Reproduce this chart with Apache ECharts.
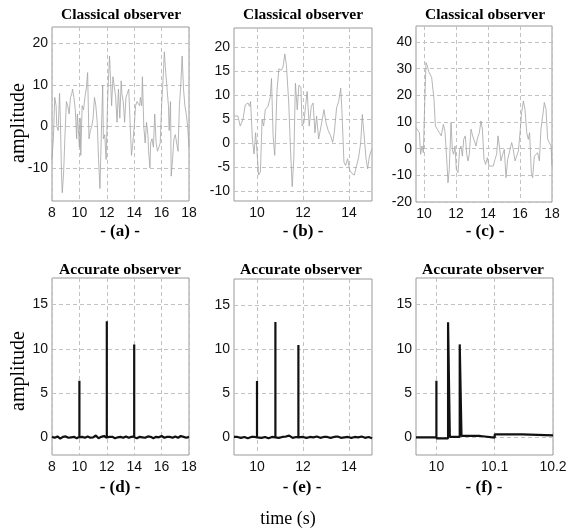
<!DOCTYPE html>
<html>
<head>
<meta charset="utf-8">
<script src="https://cdn.jsdelivr.net/npm/echarts@6/dist/echarts.min.js"></script>
<style>
  html, body { margin: 0; padding: 0; background: #fff; }
  #chart { width: 571px; height: 530px; }
</style>
</head>
<body>
<div id="chart"></div>
<script>
// ---- (a) classical observer, 8..18 s
var timeA = [8.0,8.1,8.2,8.3,8.35,8.45,8.55,8.6,8.7,8.75,8.85,8.95,9.05,9.15,9.25,9.35,9.45,9.5,9.6,9.7,9.8,9.85,9.95,10.0,10.05,10.1,10.2,10.3,10.4,10.5,10.6,10.7,10.8,10.9,11.0,11.1,11.2,11.3,11.4,11.5,11.6,11.7,11.75,11.85,11.95,12.05,12.1,12.2,12.3,12.35,12.45,12.55,12.65,12.75,12.85,12.95,13.05,13.1,13.2,13.3,13.4,13.5,13.6,13.7,13.8,13.9,14.0,14.1,14.2,14.3,14.4,14.45,14.55,14.6,14.7,14.8,14.9,15.0,15.05,15.15,15.2,15.3,15.4,15.5,15.6,15.7,15.8,15.9,16.0,16.1,16.2,16.3,16.4,16.5,16.55,16.65,16.7,16.8,16.9,17.0,17.1,17.2,17.3,17.4,17.5,17.6,17.7,17.8,17.9,18.0];
var ampA = [-8,-3,7,5,0,-1,8,3,-12,-16,-11,-2,6,5,3,7,8,9,7,4,-3,3,-2,-5,2,-7,5,4,7,9,13,-3,-1,0,2,7,5,1,-8,-15,-2,10,-3,-2,-8,5,10,17,9,5,12,12,7,1,9,2,11,8,6,1,7,8,9,1,-7,-4,0,5,6,6,5,7,5,12,0,-4,1,-2,-6,-10,-4,-3,-5,3,-4,-6,-6,-4,5,11,18,13,9,5,-1,6,-12,-8,-3,-2,-2,-6,5,10,17,9,5,3,0,-5];

// ---- (b) classical observer, 9..15 s
var timeB = [9.0,9.17,9.27,9.39,9.49,9.61,9.68,9.72,9.80,9.87,9.94,10.0,10.07,10.15,10.22,10.29,10.36,10.48,10.58,10.63,10.70,10.77,10.81,10.87,10.95,11.06,11.13,11.21,11.28,11.38,11.45,11.53,11.60,11.67,11.75,11.82,11.91,11.96,12.04,12.11,12.18,12.27,12.36,12.44,12.52,12.59,12.68,12.76,12.84,12.91,13.0,13.1,13.2,13.29,13.36,13.46,13.55,13.64,13.69,13.78,13.85,13.94,14.03,14.13,14.23,14.33,14.42,14.51,14.58,14.67,14.74,14.81,14.87,14.94,15.0];
var ampB = [5.7,5.7,3.6,5,8,8.4,7.7,8.7,0.9,-2.2,2.2,-1.8,-6.6,-5.9,5,3.6,7,7.7,9.7,13.5,1.6,-2.5,2.2,11,15.5,15.2,15.9,18.6,16.2,8.4,-0.5,-9,-3.2,12.5,7,12.1,11.7,3.6,4.3,7.7,10.8,3.6,7.7,8.4,2.2,5.7,0.9,0.9,5,7,4.3,2.6,1.6,0.2,2.2,7.4,8.7,11.5,7,-3.9,-4.6,-3.2,-5.6,-6.3,-6.6,-4.6,-2.9,0.2,6,0.9,-3.2,-5.3,-3.2,-1.8,-1.2];

// ---- (c) classical observer, 9.5..18 s
var timeC = [9.5,9.625,9.71,9.79,9.875,9.96,10.04,10.125,10.21,10.29,10.375,10.48,10.54,10.625,10.71,10.83,10.96,11.08,11.21,11.31,11.42,11.5,11.58,11.69,11.77,11.85,11.94,12.02,12.125,12.23,12.31,12.4,12.48,12.58,12.67,12.75,12.83,12.94,13.04,13.15,13.25,13.35,13.46,13.56,13.65,13.75,13.85,13.96,14.06,14.19,14.33,14.44,14.54,14.625,14.71,14.81,14.92,15.02,15.125,15.23,15.35,15.48,15.58,15.69,15.79,15.9,16.0,16.1,16.21,16.31,16.42,16.52,16.6,16.71,16.79,16.9,17.0,17.1,17.21,17.31,17.42,17.52,17.625,17.73,17.83,17.94,18.0];
var ampC = [7.9,7.5,6,-2.1,1,-1.5,16,32.3,31,29,28.5,26.6,26,18.5,8.5,7.3,6,4.8,9.1,6.6,-4,-12.8,-7.8,9.8,-0.3,-2.1,1,-7.8,-9,-0.3,1,-2.8,3.5,4.8,-2.1,-4.6,-2.1,7.3,4.8,2.9,1,4.1,6,10.4,7.3,-4,-5.9,-3.4,-6.5,-6.5,-6.5,-4,-2.1,4.8,1,-4.6,-2.1,-0.3,-10.9,-4,-3.4,2.3,-0.3,-4.6,-2.8,-0.9,6,13.5,17.9,14.8,6,3.5,6,-9,-10.9,-2.8,-2.1,-1.5,-4.6,7.3,12.3,17.3,14.8,3.5,2.3,1,-6.5];

// ---- (d) accurate observer, 8..18 s
var timeD = [8.0,8.2,8.4,8.6,8.8,9.0,9.2,9.4,9.6,9.8,10.0,10.2,10.4,10.6,10.8,11.0,11.2,11.4,11.6,11.8,12.0,12.2,12.4,12.6,12.8,13.0,13.2,13.4,13.6,13.8,14.0,14.2,14.4,14.6,14.8,15.0,15.2,15.4,15.6,15.8,16.0,16.2,16.4,16.6,16.8,17.0,17.2,17.4,17.6,17.8,18.0];
var ampD = [0.05,-0.05,0.1,-0.15,0.05,0.1,-0.05,0,0.05,-0.1,0.05,0.05,-0.05,0.1,-0.05,0,0.2,-0.1,0.05,0.15,-0.05,0.05,0.05,-0.1,0,0.05,-0.05,0.1,-0.05,0.05,0.1,-0.1,0.05,0,-0.05,0.1,0.05,-0.1,0.05,0,0.15,-0.05,0.05,0.05,-0.05,0.1,-0.05,0.15,0.05,-0.05,0.05];
var spikeTimeD = [10, 12, 14];
var spikeAmpD = [6.4, 13.1, 10.5];

// ---- (e) accurate observer, 9..15 s
var timeE = [9.0,9.15,9.3,9.45,9.6,9.75,9.9,10.05,10.2,10.35,10.5,10.65,10.8,10.95,11.1,11.25,11.4,11.55,11.7,11.85,12.0,12.15,12.3,12.45,12.6,12.75,12.9,13.05,13.2,13.35,13.5,13.65,13.8,13.95,14.1,14.25,14.4,14.55,14.7,14.85,15.0];
var ampE = [0.05,0.05,-0.05,0.05,-0.1,0.05,0.05,0.15,-0.05,0.05,-0.1,0.05,0,-0.05,0.05,0.1,0.2,-0.05,0.05,0,0.05,-0.05,0.05,0,0.1,-0.05,0.05,0.05,-0.05,0.05,0.1,-0.05,0,0.05,-0.05,0.05,0,0.1,-0.05,0.05,-0.1];
var spikeTimeE = [10, 10.8, 11.8];
var spikeAmpE = [6.4, 13.1, 10.5];

// ---- (f) accurate observer zoomed, 9.965..10.2 s
var timeF = [9.965,10.0,10.0,10.0,10.02,10.02,10.023,10.04,10.04,10.043,10.075,10.075,10.1,10.1,10.147,10.147,10.2];
var ampF = [0,0,6.4,-0.12,-0.12,13,0.05,0.05,10.5,0.15,0.15,-0.04,-0.04,0.32,0.32,0.22,0.22];

// tick labels
var xTicksA = [8, 10, 12, 14, 16, 18];
var xTicksB = [10, 12, 14];
var xTicksC = [10, 12, 14, 16, 18];
var xTicksF = [10, 10.1, 10.2];
var yTicksA = [-10, 0, 10, 20];
var yTicksB = [-10, -5, 0, 5, 10, 15, 20];
var yTicksC = [-20, -10, 0, 10, 20, 30, 40];
var yTicksLow = [0, 5, 10, 15];

function pairs(t, v) {
  return t.map(function (x, i) { return [x, v[i]]; });
}
function withSpikes(t, v, st, sh) {
  var pts = pairs(t, v);
  var out = [];
  var k = 0;
  pts.forEach(function (p) {
    while (k < st.length && st[k] < p[0]) {
      out.push([st[k], 0], [st[k], sh[k]], [st[k], 0]);
      k++;
    }
    out.push(p);
    if (k < st.length && st[k] === p[0]) {
      out.push([st[k], sh[k]], [st[k], 0]);
      k++;
    }
  });
  return out;
}

var panels = [
  { grid: { left: 52, top: 27, width: 137, height: 174 }, x: [8, 18, xTicksA], y: [-18, 24, yTicksA], data: pairs(timeA, ampA), thin: true },
  { grid: { left: 234, top: 28, width: 138, height: 173 }, x: [9, 15, xTicksB], y: [-12, 24, yTicksB], data: pairs(timeB, ampB), thin: true },
  { grid: { left: 416, top: 26, width: 136, height: 176 }, x: [9.5, 18, xTicksC], y: [-20, 46, yTicksC], data: pairs(timeC, ampC), thin: true },
  { grid: { left: 52, top: 278, width: 137, height: 177 }, x: [8, 18, xTicksA], y: [-2, 18, yTicksLow], data: withSpikes(timeD, ampD, spikeTimeD, spikeAmpD) },
  { grid: { left: 234, top: 279, width: 138, height: 176 }, x: [9, 15, xTicksB], y: [-2, 18, yTicksLow], data: withSpikes(timeE, ampE, spikeTimeE, spikeAmpE) },
  { grid: { left: 416, top: 278, width: 137, height: 177 }, x: [9.965, 10.2, xTicksF], y: [-2, 18, yTicksLow], data: pairs(timeF, ampF) }
];

var dash = { type: [4, 3], color: '#c2c2c2', width: 1 };
var labelFont = { color: '#111', fontFamily: 'Liberation Sans', fontSize: 14 };

var grids = [], xAxes = [], yAxes = [], series = [];
panels.forEach(function (p, i) {
  grids.push(Object.assign({ show: true, borderColor: '#999', borderWidth: 1, containLabel: false }, p.grid));
  xAxes.push({
    type: 'value', gridIndex: i, min: p.x[0], max: p.x[1],
    axisLine: { show: false },
    axisTick: { show: false, customValues: p.x[2] },
    axisLabel: Object.assign({ customValues: p.x[2], margin: 5 }, labelFont),
    splitLine: { show: true, lineStyle: dash }
  });
  yAxes.push({
    type: 'value', gridIndex: i, min: p.y[0], max: p.y[1],
    axisLine: { show: false },
    axisTick: { show: false, customValues: p.y[2] },
    axisLabel: Object.assign({ customValues: p.y[2], margin: 4 }, labelFont),
    splitLine: { show: true, lineStyle: dash }
  });
  series.push({
    type: 'line', xAxisIndex: i, yAxisIndex: i, data: p.data,
    showSymbol: false, clip: true,
    lineStyle: p.thin ? { color: '#a3a3a3', width: 0.8 } : { color: '#111', width: 2.2 }
  });
});

function txt(s, x, y, font, rot) {
  return {
    type: 'text', x: x, y: y, rotation: rot || 0,
    style: { text: s, font: font, fill: '#000', align: 'center', verticalAlign: 'middle', textAlign: 'center', textVerticalAlign: 'middle' }
  };
}
var titleFont = 'bold 15.5px "Liberation Serif"';
var subFont = 'bold 17px "Liberation Serif"';
var graphics = [
  txt('Classical observer', 121, 15, titleFont),
  txt('Classical observer', 303, 15, titleFont),
  txt('Classical observer', 485, 15, titleFont),
  txt('Accurate observer', 120, 270, titleFont),
  txt('Accurate observer', 301, 270, titleFont),
  txt('Accurate observer', 483, 270, titleFont),
  txt('- (a) -', 120, 232, subFont),
  txt('- (b) -', 303, 232, subFont),
  txt('- (c) -', 485, 232, subFont),
  txt('- (d) -', 120, 488, subFont),
  txt('- (e) -', 302, 488, subFont),
  txt('- (f) -', 484, 488, subFont),
  txt('amplitude', 19, 123, '20px "Liberation Serif"', Math.PI / 2),
  txt('amplitude', 19, 371, '20px "Liberation Serif"', Math.PI / 2),
  txt('time (s)', 288, 519, '18px "Liberation Serif"')
];

var chart = echarts.init(document.getElementById('chart'));
chart.setOption({
  animation: false,
  backgroundColor: '#fff',
  grid: grids,
  xAxis: xAxes,
  yAxis: yAxes,
  series: series,
  graphic: { elements: graphics }
});
</script>
</body>
</html>
